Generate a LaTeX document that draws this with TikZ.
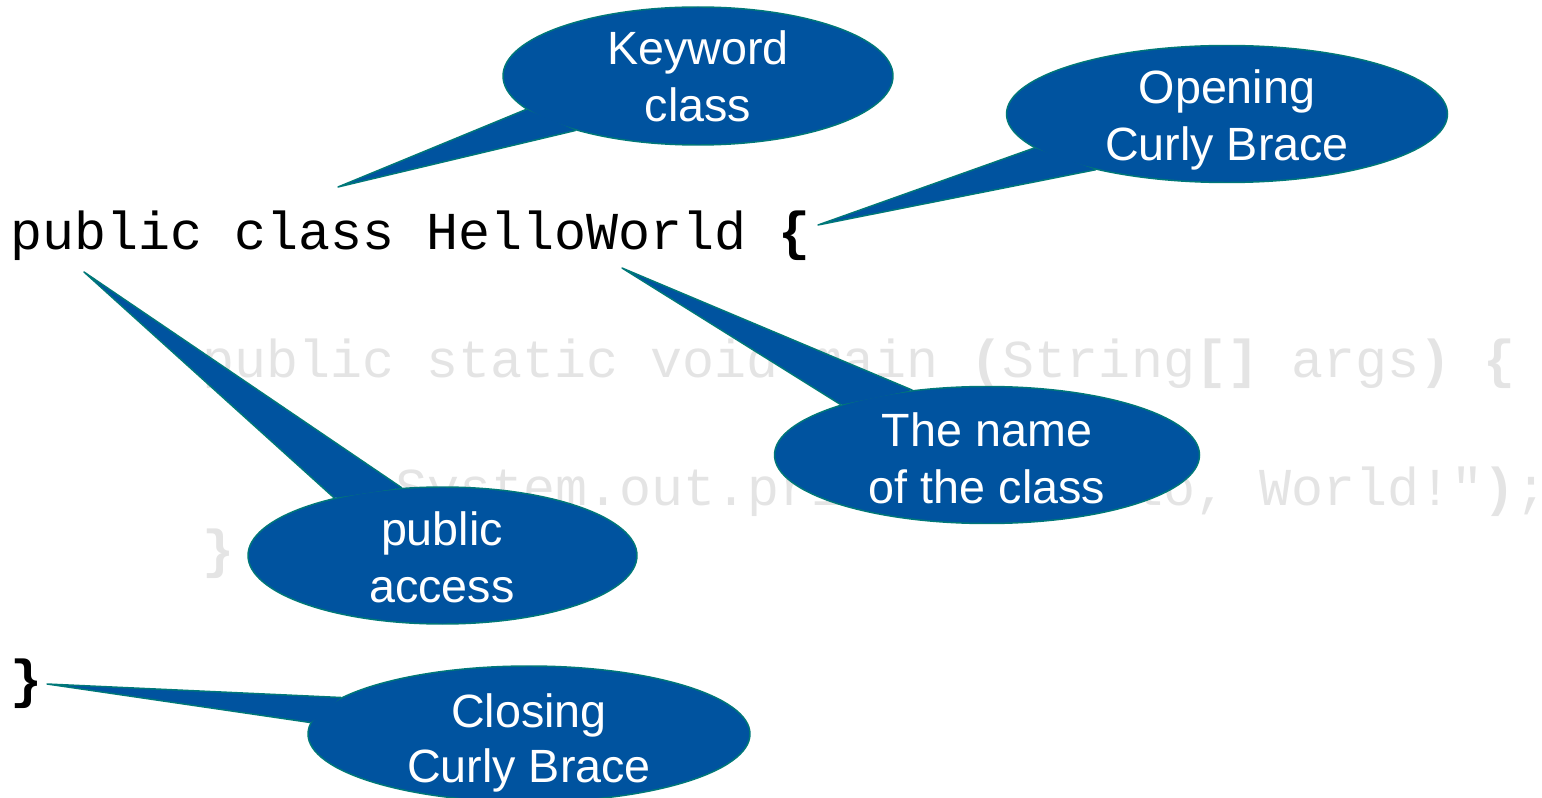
\documentclass[tikz,border=0pt]{standalone}
\usepackage{fontspec}
\usetikzlibrary{shapes.geometric}
\newfontfamily\codefont{Liberation Mono}
\newfontfamily\calfont{Liberation Sans}
\definecolor{calfill}{RGB}{0,83,159}
\definecolor{calline}{RGB}{0,120,120}
\definecolor{codegray}{RGB}{228,228,228}
\begin{document}
\begin{tikzpicture}[x=0.75pt,y=-0.75pt,
  code/.style={font=\codefont\fontsize{40}{48}\selectfont, inner sep=0, anchor=base west},
  bubble/.style={ellipse, fill=calfill, draw=calline, line width=1.1pt, inner sep=0},
  pointer/.style={fill=calfill},
  pointeredge/.style={draw=calline, line width=1.1pt, line join=round},
  caltext/.style={font=\calfont\fontsize{35}{42}\selectfont, text=white, inner sep=0, anchor=base}]
\useasboundingbox (0,0) rectangle (1542,798);

% code
\node[code] (line1) at (10,250) {public class HelloWorld \textbf{\{}};
\node[code, text=codegray] (line2) at (202.6,378) {public static void main \textbf{(}String\textbf{[]} args\textbf{)} \textbf{\{}};
\node[code, text=codegray] (line3) at (395,505) {System.out.println\textbf{(}"Hello, World!"\textbf{)};};
\node[code, text=codegray] (brace2) at (202.6,567) {\textbf{\}}};
\node[code] (brace1) at (10,697) {\textbf{\}}};

% pointer tips
\coordinate (tipkw) at (338,187);
\coordinate (tipob) at (818,225);
\coordinate (tipnm) at (622,268);
\coordinate (tippa) at (84,272);
\coordinate (tipcc) at (47,684);

% Keyword class
\node[bubble, minimum width=292.5pt, minimum height=103.5pt] (kw) at (698,76) {};
\fill[pointer] (kw.191.3) -- (tipkw) -- (kw.204.6) -- cycle;
\draw[pointeredge] (kw.191.3) -- (tipkw) -- (kw.204.6);
\node[caltext] (kw1) at (698,65) {Keyword};
\node[caltext] (kw2) at (698,122) {class};

% Opening Curly Brace
\node[bubble, minimum width=330.75pt, minimum height=102.75pt] (ob) at (1227,114) {};
\fill[pointer] (ob.190.7) -- (tipob) -- (ob.203) -- cycle;
\draw[pointeredge] (ob.190.7) -- (tipob) -- (ob.203);
\node[caltext] (ob1) at (1227,104) {Opening};
\node[caltext] (ob2) at (1227,161) {Curly Brace};

% The name of the class
\node[bubble, minimum width=318.75pt, minimum height=102.75pt] (nm) at (987,455) {};
\fill[pointer] (nm.161.6) -- (tipnm) -- (nm.139.8) -- cycle;
\draw[pointeredge] (nm.161.6) -- (tipnm) -- (nm.139.8);
\node[caltext] (nm1) at (987,446) {The name};
\node[caltext] (nm2) at (987,503) {of the class};

% public access
\node[bubble, minimum width=291.75pt, minimum height=102.75pt] (pa) at (442.5,555.5) {};
\fill[pointer] (pa.152.6) -- (tippa) -- (pa.121.7) -- cycle;
\draw[pointeredge] (pa.152.6) -- (tippa) -- (pa.121.7);
\node[caltext] (pa1) at (442,545) {public};
\node[caltext] (pa2) at (442,602) {access};

% Closing Curly Brace
\node[bubble, minimum width=331.5pt, minimum height=102pt] (cc) at (529,734) {};
\fill[pointer] (cc.169.6) -- (tipcc) -- (cc.177.7) -- cycle;
\draw[pointeredge] (cc.169.6) -- (tipcc) -- (cc.177.7);
\node[caltext] (cc1) at (529,727) {Closing};
\node[caltext] (cc2) at (529,782) {Curly Brace};
\end{tikzpicture}
\end{document}
